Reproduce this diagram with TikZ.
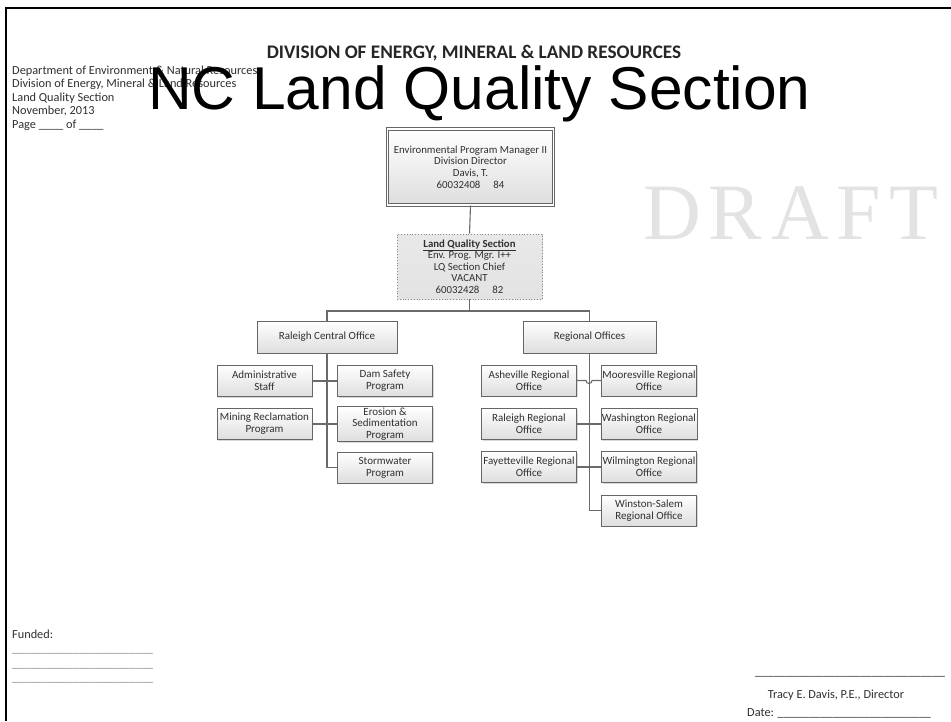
\documentclass[tikz,border=0pt]{standalone}
\usepackage{fontspec}
\setmainfont{Carlito}
\newfontfamily\arialfont{Liberation Sans}
\newfontfamily\timesfont{Liberation Serif}
\usetikzlibrary{shadows}
\definecolor{linegray}{HTML}{6A6A6A}
\definecolor{boxgray}{HTML}{666666}
\definecolor{txt}{HTML}{303030}
\definecolor{draftgray}{HTML}{E3E3E3}
\begin{document}
\begin{tikzpicture}[x=1pt,y=-1pt,
  box/.style={draw=boxgray, line width=0.8pt, top color=white, bottom color=black!13,
    drop shadow={shadow xshift=1.2pt,shadow yshift=-1.2pt,opacity=0.3},
    align=center, inner sep=1pt, text=txt, font=\fontsize{11}{11.8}\selectfont},
  small/.style={box, minimum width=95pt, minimum height=31pt},
  conn/.style={draw=linegray, line width=1.1pt},
  doctext/.style={anchor=base west, inner sep=0pt, text=txt, font=\fontsize{12.3}{13}\selectfont},
  rule/.style={anchor=base west, inner sep=0pt, text=black!45, font=\fontsize{12.3}{13}\selectfont}
]
\useasboundingbox (0,0) rectangle (951,721);
\fill[white] (0,0) rectangle (951,721);
% page frame
\draw[line width=2.6pt, black] (6,721) -- (6,8) -- (951,8);

% headings
\node[anchor=base, inner sep=0pt, text=black!85, font=\fontsize{19.2}{22}\selectfont\bfseries] (div) at (474,58) {DIVISION OF ENERGY, MINERAL \& LAND RESOURCES};

\node[doctext] (l1) at (12,74) {Department of Environment \& Natural Resources};
\node[doctext] (l2) at (12,87.5) {Division of Energy, Mineral \& Land Resources};
\node[doctext] (l3) at (12,101) {Land Quality Section};
\node[doctext] (l4) at (12,114.5) {November, 2013};
\node[doctext] (l5) at (12,128) {Page \_\_\_\_ of \_\_\_\_};

\node[anchor=base west, inner sep=0pt, text=black, font=\arialfont\fontsize{60.5}{62}\selectfont] (title) at (148,109) {NC Land Quality Section};

% watermark
\node[anchor=base west, inner sep=0pt, text=draftgray, font=\timesfont\fontsize{80}{82}\selectfont] (draft) at (643,239) {D\hspace{8pt}R\hspace{9pt}A\hspace{7pt}F\hspace{9pt}T};

% org chart
\node[box, draw=black!60, line width=1pt, double=white, double distance=1.2pt, minimum width=166pt, minimum height=76pt, font=\fontsize{10.8}{11.7}\selectfont] (top) at (470.5,167)
  {Environmental Program Manager II\\Division Director\\Davis, T.\\60032408\hspace{1.2em}84};
\node[box, draw=black!45, dotted, line width=0.9pt, top color=black!9, bottom color=black!11, minimum width=145pt, minimum height=65pt, font=\fontsize{10.8}{11.4}\selectfont] (lq) at (469.5,266.5)
  {\textbf{\underline{Land Quality Section}}\\Env. Prog. Mgr. I++\\LQ Section Chief\\VACANT\\60032428\hspace{1.2em}82};

\node[box, minimum width=140pt, minimum height=32pt] (rco) at (327,337) {Raleigh Central Office};
\node[box, minimum width=133pt, minimum height=32pt] (reg) at (589.5,337) {Regional Offices};

\node[small] (admin) at (264.5,381) {Administrative\\Staff};
\node[small] (dam) at (385,381) {Dam Safety\\Program};
\node[small] (mining) at (264.5,424) {Mining Reclamation\\Program};
\node[small] (erosion) at (385,424) {Erosion \&\\Sedimentation\\Program};
\node[small] (storm) at (385,467.5) {Stormwater\\Program};

\node[small] (ashe) at (529,380.5) {Asheville Regional\\Office};
\node[small] (moor) at (649,380.5) {Mooresville Regional\\Office};
\node[small] (ralreg) at (529,424) {Raleigh Regional\\Office};
\node[small] (wash) at (649,424) {Washington Regional\\Office};
\node[small] (fay) at (529,467) {Fayetteville Regional\\Office};
\node[small] (wilm) at (649,467) {Wilmington Regional\\Office};
\node[small] (wins) at (649,510.5) {Winston-Salem\\Regional Office};

% connectors
\coordinate (j) at (469.5,311);
\draw[conn] (top.south) -- (lq.north);
\draw[conn] (lq.south) -- (j);
\draw[conn] (rco.north) |- (j) -| (reg.north);
\draw[conn] (rco.south) |- (storm.west);
\draw[conn] (admin.east) -- (dam.west);
\draw[conn] (mining.east) -- (erosion.west);
\draw[conn] (reg.south) |- (wins.west);
\coordinate (hop) at (586,380.5);
\draw[conn] (ashe.east) -- (hop) arc[start angle=180, end angle=360, radius=3pt] -- (moor.west);
\draw[conn] (ralreg.east) -- (wash.west);
\draw[conn] (fay.east) -- (wilm.west);

% bottom texts
\node[doctext] (funded) at (12,638) {Funded:};
\node[rule] (f1) at (12,652) {\_\_\_\_\_\_\_\_\_\_\_\_\_\_\_\_\_\_\_\_\_\_\_};
\node[rule] (f2) at (12,667) {\_\_\_\_\_\_\_\_\_\_\_\_\_\_\_\_\_\_\_\_\_\_\_};
\node[rule] (f3) at (12,681) {\_\_\_\_\_\_\_\_\_\_\_\_\_\_\_\_\_\_\_\_\_\_\_};

\node[rule, text=txt] (sigline) at (755,675) {\_\_\_\_\_\_\_\_\_\_\_\_\_\_\_\_\_\_\_\_\_\_\_\_\_\_\_\_\_\_\_};
\node[doctext, anchor=base] (sig) at (836,698) {Tracy E. Davis, P.E., Director};
\node[doctext] (date) at (747,716) {Date: \_\_\_\_\_\_\_\_\_\_\_\_\_\_\_\_\_\_\_\_\_\_\_\_\_};
\end{tikzpicture}
\end{document}
